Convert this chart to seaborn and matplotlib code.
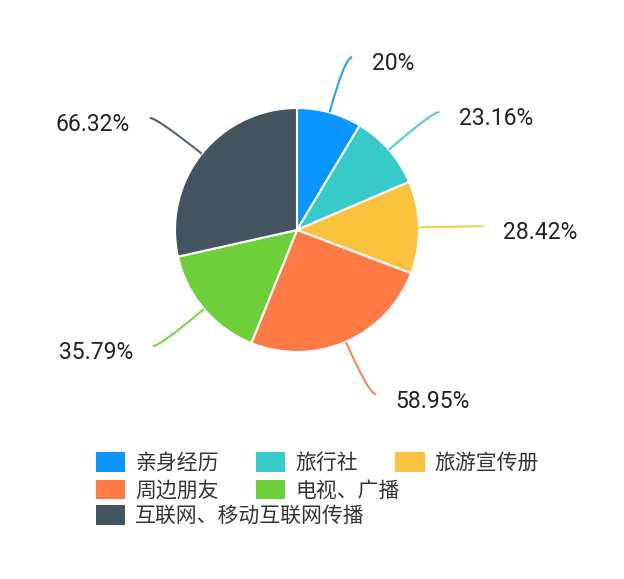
import numpy as np
import matplotlib
matplotlib.use("Agg")
import matplotlib.pyplot as plt
import matplotlib.patches as mpatches
from matplotlib.path import Path
import seaborn as sns

# --- data ---
categories = ["亲身经历", "旅行社", "旅游宣传册", "周边朋友", "电视、广播", "互联网、移动互联网传播"]
values = [20, 23.16, 28.42, 58.95, 35.79, 66.32]
labels = ["20%", "23.16%", "28.42%", "58.95%", "35.79%", "66.32%"]
colors = ["#0A95FF", "#36CBC9", "#FBC23D", "#FF7A45", "#6ECF3B", "#42545F"]

sns.set_theme(style="white")
plt.rcParams["font.family"] = ["Noto Sans CJK SC", "DejaVu Sans"]
palette = sns.color_palette(colors)

W, H = 624, 579
R = 122.0          # pie radius in px
cx, cy = 297, 230  # pie centre in px (from top)

fig = plt.figure(figsize=(W / 100, H / 100), dpi=100)
ax = fig.add_axes([0, 0, 1, 1])

wedges, _ = ax.pie(values, colors=palette, startangle=90, counterclock=False,
                   radius=1.0, wedgeprops=dict(edgecolor="white", linewidth=1.5))
ax.set_xlim(-cx / R, (W - cx) / R)
ax.set_ylim(-(H - cy) / R, cy / R)
ax.axis("off")

# --- leader lines + labels ---
for w, lab, col in zip(wedges, labels, palette):
    ang = np.deg2rad((w.theta1 + w.theta2) / 2)
    c, s = np.cos(ang), np.sin(ang)
    side = 1 if c >= 0 else -1
    p0 = (c * 1.0, s * 1.0)
    p1 = (c * 1.47, s * 1.47)
    p2 = (p1[0] + side * 0.06, p1[1])
    path = Path([p0, p1, p2], [Path.MOVETO, Path.CURVE3, Path.CURVE3])
    ax.add_patch(mpatches.PathPatch(path, fill=False, edgecolor=col, lw=1.5, alpha=0.9))
    ax.text(p2[0] + side * 0.16, p2[1] - 0.055, lab, ha="left" if side > 0 else "right",
            va="center", fontsize=16.5, color="#222222", family=["Roboto", "DejaVu Sans"])

# --- legend: three flowing rows ---
handles = [mpatches.Patch(facecolor=col, edgecolor="none") for col in palette]
rows = [[0, 1, 2], [3, 4], [5]]
row_y = [463, 490.5, 516]
for idx, yy in zip(rows, row_y):
    leg = fig.legend([handles[i] for i in idx], [categories[i] for i in idx],
                     loc="center left", bbox_to_anchor=(96 / W, 1 - yy / H),
                     ncol=len(idx), frameon=False, fontsize=15,
                     handlelength=1.4, handleheight=1.05, handletextpad=0.48,
                     columnspacing=1.8, borderpad=0, borderaxespad=0)
    for t in leg.get_texts():
        t.set_color("#333333")

fig.savefig("out.png", dpi=100, facecolor="white")
